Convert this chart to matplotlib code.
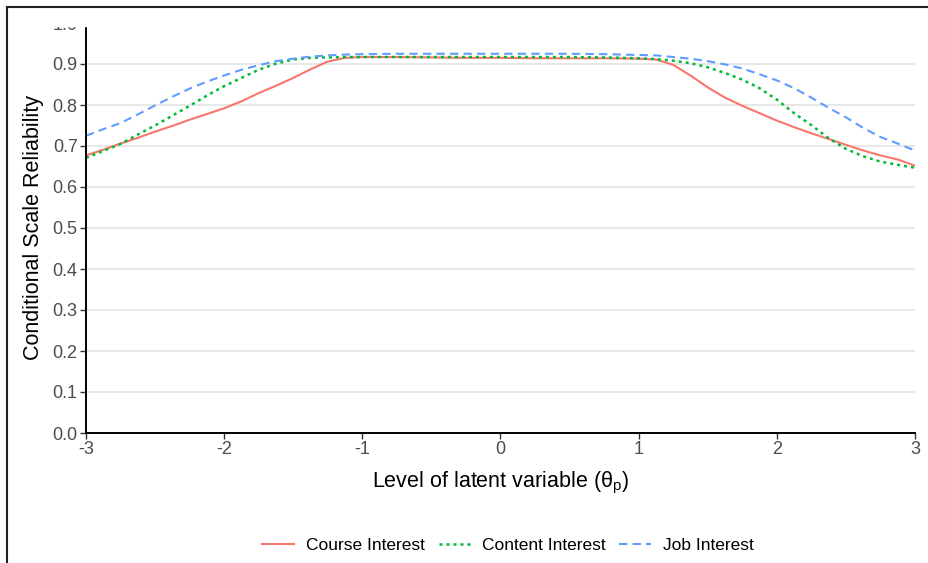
import numpy as np
import matplotlib
matplotlib.use("Agg")
import matplotlib.pyplot as plt
from matplotlib.patches import Rectangle
from matplotlib.lines import Line2D

plt.rcParams['font.family'] = ['Liberation Sans', 'DejaVu Sans']
plt.rcParams['axes.unicode_minus'] = False

# latent variable grid and reliabilities
theta = [-3.0, -2.875, -2.75, -2.625, -2.5, -2.375, -2.25, -2.125, -2.0, -1.875, -1.75, -1.625,
         -1.5, -1.375, -1.25, -1.125, -1.0, -0.75, -0.5, -0.25, 0.0, 0.25, 0.5, 0.75,
         1.0, 1.125, 1.25, 1.375, 1.5, 1.625, 1.75, 1.875, 2.0, 2.125, 2.25, 2.375,
         2.5, 2.625, 2.75, 2.875, 3.0]

course = [0.677, 0.691, 0.706, 0.720, 0.735, 0.749, 0.764, 0.778, 0.792, 0.809, 0.829, 0.847,
          0.866, 0.887, 0.906, 0.915, 0.917, 0.917, 0.916, 0.915, 0.915, 0.914, 0.914, 0.914,
          0.913, 0.911, 0.898, 0.872, 0.843, 0.818, 0.798, 0.780, 0.762, 0.746, 0.731, 0.717,
          0.703, 0.689, 0.677, 0.667, 0.652]
content = [0.671, 0.688, 0.705, 0.728, 0.750, 0.774, 0.798, 0.823, 0.846, 0.866, 0.886, 0.901,
           0.911, 0.915, 0.916, 0.917, 0.917, 0.917, 0.917, 0.917, 0.917, 0.917, 0.917, 0.916,
           0.914, 0.912, 0.908, 0.902, 0.892, 0.878, 0.862, 0.841, 0.813, 0.780, 0.751, 0.719,
           0.693, 0.675, 0.662, 0.654, 0.647]
job = [0.725, 0.741, 0.756, 0.777, 0.799, 0.820, 0.840, 0.857, 0.872, 0.886, 0.897, 0.907,
       0.913, 0.918, 0.921, 0.923, 0.924, 0.925, 0.925, 0.925, 0.925, 0.925, 0.925, 0.924,
       0.922, 0.921, 0.917, 0.913, 0.907, 0.899, 0.889, 0.875, 0.860, 0.841, 0.818, 0.793,
       0.770, 0.744, 0.722, 0.706, 0.689]

labels = ['Course Interest', 'Content Interest', 'Job Interest']
colors = ['#F8766D', '#00BA38', '#619CFF']
dotted = (0, (1.2, 1.6))
dashed = (0, (4, 2.5))

fig = plt.figure(figsize=(9.29, 5.63), dpi=100)
ax = fig.add_axes([86 / 929, 1 - 433 / 563, (915 - 86) / 929, (433 - 23) / 563])

ax.plot(theta, course, color=colors[0], lw=1.5, ls='-', label=labels[0])
ax.plot(theta, content, color=colors[1], lw=1.8, ls=dotted, label=labels[1])
ax.plot(theta, job, color=colors[2], lw=1.5, ls=dashed, label=labels[2])

ax.set_xlim(-3, 3)
ax.set_ylim(0, 1.0)
ax.set_xticks([-3, -2, -1, 0, 1, 2, 3])
ax.set_yticks(np.arange(0, 1.01, 0.1))
ax.set_yticklabels([f'{v:.1f}' for v in np.arange(0, 1.01, 0.1)])

ax.grid(axis='y', color='#E5E5E5', lw=1.3)
ax.set_axisbelow(True)
for s in ['top', 'right']:
    ax.spines[s].set_visible(False)
for s in ['left', 'bottom']:
    ax.spines[s].set_color('black')
    ax.spines[s].set_linewidth(1.4)
ax.tick_params(axis='both', colors='#333333', labelsize=13, length=4, width=1,
               labelcolor='#4D4D4D', pad=2)

ax.set_ylabel('Conditional Scale Reliability', fontsize=15.5, labelpad=6)
ax.set_xlabel(r'Level of latent variable ($\mathregular{\theta_p}$)', fontsize=15.5, labelpad=8)

handles = [Line2D([], [], color=colors[0], lw=1.5, ls='-'),
           Line2D([], [], color=colors[1], lw=1.8, ls=dotted),
           Line2D([], [], color=colors[2], lw=1.5, ls=dashed)]
fig.legend(handles, labels, loc='center', bbox_to_anchor=(508 / 929, 1 - 545 / 563),
           ncol=3, frameon=False, fontsize=12.5, handlelength=1.8, handletextpad=0.7,
           columnspacing=0.8)

# cropped top region and the image frame
fig.patches.append(Rectangle((0, 1 - 26 / 563), 1, 26 / 563, transform=fig.transFigure,
                             color='white', zorder=10))
fig.lines.append(Line2D([7 / 929, 1], [1 - 7 / 563, 1 - 7 / 563], transform=fig.transFigure,
                        color='#222222', lw=1.5, zorder=11))
fig.lines.append(Line2D([7 / 929, 7 / 929], [0, 1 - 7 / 563], transform=fig.transFigure,
                        color='#222222', lw=1.5, zorder=11))

fig.savefig('out.png', dpi=100)
